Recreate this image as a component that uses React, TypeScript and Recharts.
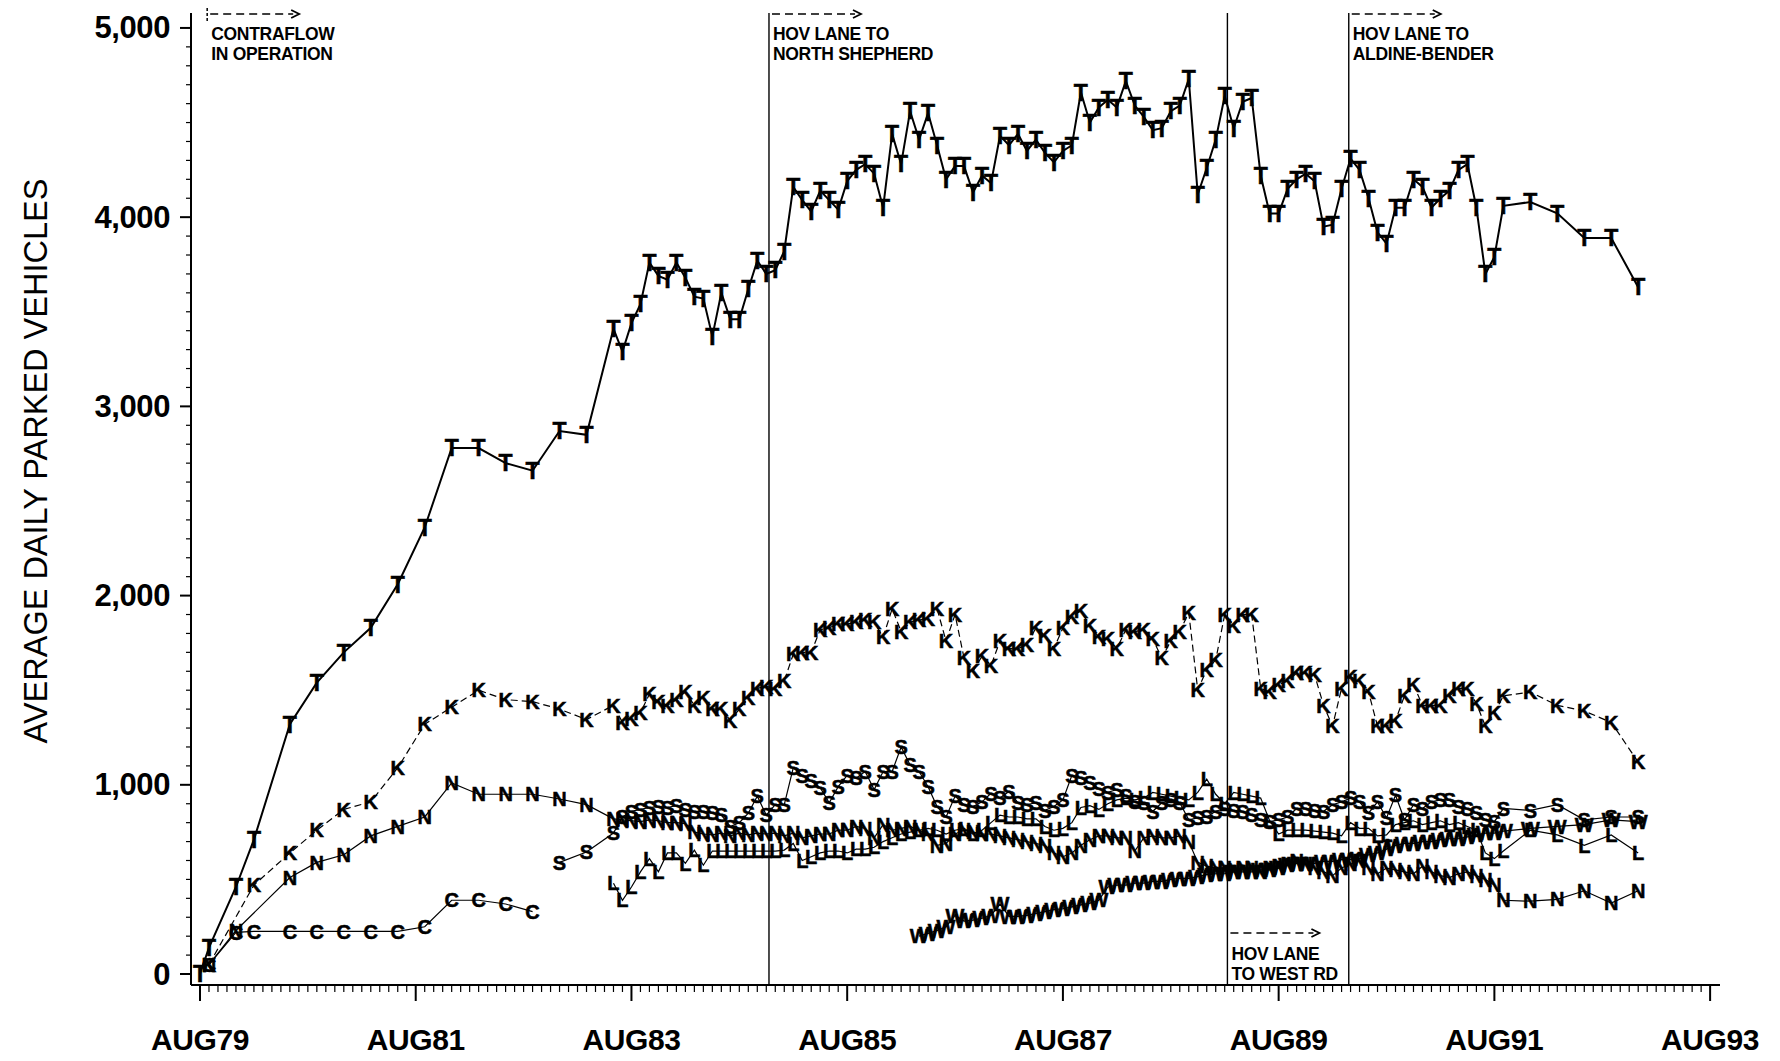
import { LineChart, Line, XAxis, YAxis, ReferenceLine } from 'recharts'

const span = (a: number, b: number) => Array.from({ length: b - a + 1 }, (_, i) => a + i)

// months counted from AUG79 (= 0)
const EARLY = [1, 4, 6, 10, 13, 16, 19, 22, 25, 28, 31, 34, 37, 40, 43]
const LATE = [148, 151, 154, 157, 160]

const T_MONTHS = [0, ...EARLY, ...span(46, 145), ...LATE]
const T_VALUES = [
  0, 140, 460, 710, 1320, 1540, 1700, 1830, 2060, 2360, 2780, 2780, 2700, 2660, 2870, 2850,
  3410, 3290, 3440, 3540, 3760, 3690, 3670, 3760, 3680, 3580,
  3570, 3370, 3600, 3460, 3460, 3620, 3770, 3700, 3720, 3820,
  4160, 4090, 4030, 4140, 4090, 4040, 4190, 4250, 4280, 4230,
  4050, 4440, 4280, 4560, 4410, 4550, 4380, 4200, 4270, 4270,
  4130, 4220, 4180, 4430, 4380, 4440, 4350, 4410, 4340, 4290,
  4350, 4380, 4660, 4500, 4580, 4620, 4580, 4720, 4590, 4530,
  4460, 4470, 4560, 4590, 4730, 4120, 4260, 4410, 4640, 4470,
  4610, 4630, 4220, 4020, 4020, 4150, 4200, 4230, 4190, 3950,
  3960, 4150, 4310, 4250, 4100, 3920, 3860, 4050, 4050, 4200,
  4160, 4050, 4100, 4140, 4250, 4280, 4050, 3700, 3790, 4060,
  4080, 4020, 3890, 3890, 3630,
]

const K_MONTHS = [1, 6, 10, 13, 16, 19, 22, 25, 28, 31, 34, 37, 40, 43, ...span(46, 145), ...LATE]
const K_VALUES = [
  50, 470, 640, 760, 870, 910, 1090, 1320, 1410, 1500, 1450, 1440, 1400, 1345,
  1420, 1330, 1350, 1380, 1480, 1440, 1420, 1450, 1490, 1420,
  1460, 1400, 1400, 1340, 1400, 1460, 1510, 1520, 1510, 1550,
  1690, 1700, 1700, 1820, 1830, 1850, 1850, 1860, 1870, 1860,
  1780, 1930, 1810, 1860, 1870, 1880, 1930, 1760, 1900, 1670,
  1600, 1680, 1630, 1760, 1720, 1720, 1740, 1830, 1790, 1720,
  1830, 1890, 1920, 1840, 1780, 1770, 1720, 1820, 1810, 1820,
  1770, 1670, 1760, 1810, 1910, 1500, 1610, 1660, 1900, 1840,
  1900, 1900, 1510, 1490, 1530, 1550, 1590, 1590, 1580, 1420,
  1310, 1510, 1570, 1550, 1490, 1310, 1310, 1340, 1470, 1530,
  1420, 1420, 1420, 1470, 1510, 1510, 1430, 1310, 1380, 1470,
  1490, 1420, 1390, 1330, 1120,
]

const N_MONTHS = [1, 4, 10, 13, 16, 19, 22, 25, 28, 31, 34, 37, 40, 43, ...span(46, 145), ...LATE]
const N_VALUES = [
  50, 230, 510, 590, 630, 730, 780, 830, 1010, 950, 950, 950, 925, 895,
  820, 815, 810, 805, 815, 810, 800, 800, 795, 750,
  740, 735, 745, 730, 745, 735, 745, 740, 745, 730,
  745, 720, 730, 740, 740, 760, 760, 780, 770, 720,
  790, 760, 770, 780, 760, 740, 680, 690, 740, 760,
  750, 740, 740, 730, 720, 710, 700, 690, 680, 640,
  620, 640, 680, 710, 730, 730, 720, 720, 650, 720,
  730, 720, 720, 730, 700, 590, 570, 560, 560, 550,
  560, 560, 540, 560, 570, 580, 600, 580, 560, 540,
  520, 560, 580, 600, 560, 530, 560, 550, 540, 530,
  570, 540, 520, 510, 530, 540, 520, 500, 470, 390,
  385, 395, 440, 375, 440,
]

const C_MONTHS = [1, 4, 6, 10, 13, 16, 19, 22, 25, 28, 31, 34, 37]
const C_VALUES = [50, 220, 225, 225, 225, 225, 225, 225, 250, 390, 390, 370, 330]

const S_MONTHS = [40, 43, ...span(46, 145), ...LATE]
const S_VALUES = [
  590, 645,
  745, 830, 860, 870, 880, 885, 880, 890, 870, 860,
  860, 850, 840, 780, 800, 850, 940, 840, 895, 895,
  1090, 1050, 1020, 985, 905, 990, 1050, 1035, 1070, 975,
  1070, 1070, 1200, 1105, 1070, 990, 885, 830, 940, 895,
  885, 910, 955, 930, 965, 905, 895, 905, 865, 885,
  920, 1050, 1035, 1010, 980, 960, 975, 940, 910, 905,
  860, 905, 920, 905, 815, 825, 830, 860, 875, 865,
  860, 840, 815, 805, 815, 830, 875, 875, 865, 860,
  895, 910, 930, 910, 850, 910, 825, 945, 815, 895,
  875, 910, 920, 920, 885, 875, 850, 815, 805, 875,
  865, 895, 815, 830, 830,
]

const L_MONTHS = [...span(46, 145), ...LATE]
const L_VALUES = [
  480, 390, 460, 540, 610, 540, 640, 640, 585, 655,
  575, 650, 650, 650, 650, 650, 650, 650, 650, 655,
  690, 600, 620, 640, 650, 650, 640, 660, 660, 670,
  700, 720, 740, 750, 760, 770, 760, 740, 760, 770,
  740, 760, 800, 840, 830, 830, 820, 820, 780, 760,
  770, 800, 880, 890, 870, 900, 920, 930, 920, 930,
  960, 950, 940, 930, 920, 960, 1030, 950, 900, 960,
  950, 940, 930, 810, 740, 760, 760, 760, 755, 750,
  745, 730, 800, 770, 770, 730, 735, 790, 800, 810,
  790, 800, 810, 790, 800, 780, 760, 640, 610, 650,
  760, 735, 680, 735, 640,
]

const W_MONTHS = [...span(80, 145), ...LATE]
const W_VALUES = [
  200, 215, 230, 250, 310, 280, 285, 295, 310, 370,
  305, 305, 310, 320, 330, 340, 345, 355, 365, 375,
  390, 460, 470, 470, 480, 480, 490, 490, 500, 505,
  505, 515, 525, 530, 530, 540, 540, 540, 550, 550,
  560, 575, 585, 585, 585, 595, 595, 605, 605, 610,
  630, 640, 660, 680, 690, 690, 700, 700, 710, 715,
  715, 725, 735, 745, 745, 755,
  770, 780, 790, 815, 805,
]

const X_LABELS = ['AUG79', 'AUG81', 'AUG83', 'AUG85', 'AUG87', 'AUG89', 'AUG91', 'AUG93']
const X_TICKS = span(0, 168)
const Y_TICKS = span(0, 50).map((i) => i * 100)

// month positions of the event lines
const CONTRAFLOW = 0.8
const NORTH_SHEPHERD = 63.3
const WEST_RD = 114.3
const ALDINE_BENDER = 127.8

const FONT = '"Liberation Sans", Arial, Helvetica, sans-serif'

const toPoints = (ms: number[], vs: number[]) => ms.map((m, i) => ({ m, v: vs[i] }))

const glyph = (ch: string, size: number) => (p: any) => {
  const key = `${ch}-${p.index}`
  if (p.cx == null || p.cy == null) return <g key={key} />
  return (
    <text
      key={key}
      x={p.cx}
      y={p.cy + size * 0.36}
      textAnchor="middle"
      fontSize={size}
      fontWeight="bold"
      fontFamily={FONT}
      fill="#000"
      stroke="#000"
      strokeWidth={0.5}
    >
      {ch}
    </text>
  )
}

function XTick({ x, y, payload }: any) {
  const i = payload.value
  const major = i % 24 === 0
  return (
    <g>
      <line x1={x} x2={x} y1={y} y2={y + (major ? 16 : 7)} stroke="#000" strokeWidth={major ? 2 : 1.2} />
      {major && (
        <text x={x} y={y + 65} textAnchor="middle" fontSize={30} fontWeight="bold" fontFamily={FONT} letterSpacing={-0.4} fill="#000">
          {X_LABELS[i / 24]}
        </text>
      )}
    </g>
  )
}

function YTick({ x, y, payload }: any) {
  const v = payload.value
  const major = v % 1000 === 0
  return (
    <g>
      <line x1={x} x2={x - (major ? 11 : 5)} y1={y} y2={y} stroke="#000" strokeWidth={major ? 2 : 1.2} />
      {major && (
        <text x={x - 21} y={y + 10.5} textAnchor="end" fontSize={31} fontWeight="bold" fontFamily={FONT} letterSpacing={-0.4} fill="#000">
          {v.toLocaleString('en-US')}
        </text>
      )}
    </g>
  )
}

function YTitle() {
  return (
    <text x={36} y={461} transform="rotate(-90 36 461)" textAnchor="middle" dominantBaseline="central" fontSize={32.5} fontFamily={FONT} fill="#000">
      AVERAGE DAILY PARKED VEHICLES
    </text>
  )
}

function Note({ viewBox, lines, place, mark }: any) {
  const x = viewBox.x
  const top = viewBox.y
  const bottom = viewBox.y + viewBox.height
  const ay = place === 'top' ? top + 1 : bottom - 52
  const base = place === 'top' ? top + 27 : bottom - 25
  return (
    <g>
      {mark && <line x1={x} x2={x} y1={top - 5} y2={top + 9} stroke="#000" strokeWidth={1.5} strokeDasharray="3 2" />}
      <line x1={x + 3} x2={x + 86} y1={ay} y2={ay} stroke="#000" strokeWidth={1.6} strokeDasharray="8 5" />
      <polyline points={`${x + 84},${ay - 4} ${x + 92},${ay} ${x + 84},${ay + 4}`} fill="none" stroke="#000" strokeWidth={1.8} />
      {lines.map((t: string, i: number) => (
        <text key={t} x={x + 4} y={base + i * 20} fontSize={17.5} fontWeight="bold" fontFamily={FONT} letterSpacing={-0.3} fill="#000">
          {t}
        </text>
      ))}
    </g>
  )
}

export default function App() {
  const series = [
    { ch: 'W', pts: toPoints(W_MONTHS, W_VALUES), w: 1.2, dash: undefined, size: 20 },
    { ch: 'L', pts: toPoints(L_MONTHS, L_VALUES), w: 1.2, dash: undefined, size: 20 },
    { ch: 'N', pts: toPoints(N_MONTHS, N_VALUES), w: 1.2, dash: undefined, size: 20 },
    { ch: 'S', pts: toPoints(S_MONTHS, S_VALUES), w: 1.2, dash: undefined, size: 20 },
    { ch: 'C', pts: toPoints(C_MONTHS, C_VALUES), w: 1.2, dash: undefined, size: 20 },
    { ch: 'K', pts: toPoints(K_MONTHS, K_VALUES), w: 1.2, dash: '7 4', size: 20 },
    { ch: 'T', pts: toPoints(T_MONTHS, T_VALUES), w: 2, dash: undefined, size: 23 },
  ]
  return (
    <div style={{ position: 'absolute', left: 0, top: 0, width: 1780, height: 1061, background: '#fff' }}>
      <LineChart width={1780} height={1061} margin={{ top: 13, right: 60, bottom: 16, left: 71 }}>
        <XAxis
          type="number"
          dataKey="m"
          domain={[-1, 169.1]}
          allowDataOverflow
          ticks={X_TICKS}
          interval={0}
          tick={<XTick />}
          tickLine={false}
          tickSize={0}
          tickMargin={0}
          height={60}
          axisLine={{ stroke: '#000', strokeWidth: 2 }}
        />
        <YAxis
          type="number"
          domain={[-58, 5079]}
          allowDataOverflow
          ticks={Y_TICKS}
          interval={0}
          tick={<YTick />}
          tickLine={false}
          tickSize={0}
          tickMargin={0}
          width={120}
          axisLine={{ stroke: '#000', strokeWidth: 2 }}
          label={<YTitle />}
        />
        <ReferenceLine x={CONTRAFLOW} stroke="none" label={<Note place="top" mark lines={['CONTRAFLOW', 'IN OPERATION']} />} />
        <ReferenceLine x={NORTH_SHEPHERD} stroke="#000" strokeWidth={1.4} label={<Note place="top" lines={['HOV LANE TO', 'NORTH SHEPHERD']} />} />
        <ReferenceLine x={WEST_RD} stroke="#000" strokeWidth={1.4} label={<Note place="bottom" lines={['HOV LANE', 'TO WEST RD']} />} />
        <ReferenceLine x={ALDINE_BENDER} stroke="#000" strokeWidth={1.4} label={<Note place="top" lines={['HOV LANE TO', 'ALDINE-BENDER']} />} />
        {series.map((s) => (
          <Line
            key={s.ch}
            data={s.pts}
            dataKey="v"
            type="linear"
            stroke="#000"
            strokeWidth={s.w}
            strokeDasharray={s.dash}
            dot={glyph(s.ch, s.size)}
            activeDot={false}
            isAnimationActive={false}
          />
        ))}
      </LineChart>
    </div>
  )
}
